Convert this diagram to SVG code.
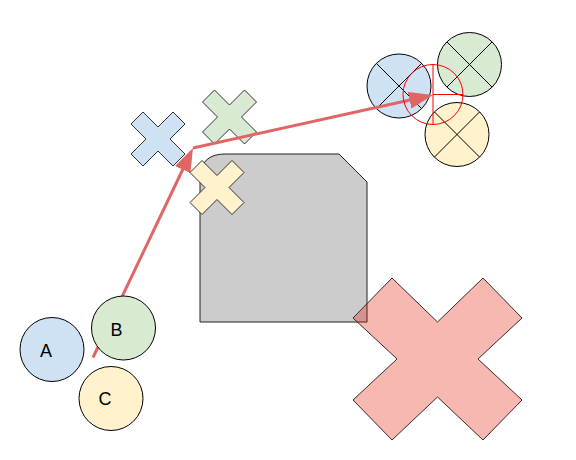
<svg xmlns="http://www.w3.org/2000/svg" width="576" height="460" viewBox="0 0 576 460">
<defs>
<style>
.lbl{font-family:"Liberation Sans",Arial,sans-serif;font-size:18px;fill:#000;text-anchor:middle}
.blue{fill:#cfe2f3;stroke:#000;stroke-width:1}
.green{fill:#d9ead3;stroke:#000;stroke-width:1}
.yellow{fill:#fff2cc;stroke:#000;stroke-width:1}
.xl{stroke:#000;stroke-width:1;fill:none}
.xs{stroke:#333;stroke-width:1}
.edge{fill:none;stroke:#e06666;stroke-width:3}
</style>
<polygon id="smallX" points="0,-12 15,-27 27,-15 12,0 27,15 15,27 0,12 -15,27 -27,15 -12,0 -27,-15 -15,-27"/>
<g id="xlines"><line x1="-22.6" y1="-22.6" x2="22.6" y2="22.6"/><line x1="22.6" y1="-22.6" x2="-22.6" y2="22.6"/></g>
<marker id="arr" markerUnits="userSpaceOnUse" markerWidth="26" markerHeight="18" refX="4" refY="8.5" orient="auto" viewBox="0 0 26 18">
<path d="M0,0 L24,8.5 L0,17 Z" fill="#e06666"/>
</marker>
</defs>
<g id="grayBox"><path d="M200,322 V179 Q200,154 225,154 H339 L367,182 V322 Z" fill="#cccccc" stroke="#222" stroke-width="1"/></g>
<g id="circleBlueX"><circle cx="399" cy="86" r="32" class="blue"/><use href="#xlines" transform="translate(399,86)" class="xl"/></g>
<g id="circleGreenX"><circle cx="469.5" cy="64.5" r="32" class="green"/><use href="#xlines" transform="translate(469.5,64.5)" class="xl"/></g>
<g id="circleYellowX"><circle cx="457" cy="134.5" r="32" class="yellow"/><use href="#xlines" transform="translate(457,134.5)" class="xl"/></g>
<g id="crossBlue"><use href="#smallX" transform="translate(158,139)" fill="#cfe2f3" class="xs"/></g>
<g id="crossGreen"><use href="#smallX" transform="translate(229.5,117)" fill="#d9ead3" class="xs"/></g>
<g id="connectors">
<path class="edge" d="M93,357.5 L184.4,166" marker-end="url(#arr)"/>
<path class="edge" d="M193,148 L413.5,99.3" marker-end="url(#arr)"/>
</g>
<g id="crossYellow"><use href="#smallX" transform="translate(217,187.5)" fill="#fff2cc" class="xs"/></g>
<g id="nodeA"><circle cx="52" cy="349.5" r="32" class="blue"/><text x="46" y="356.5" class="lbl">A</text></g>
<g id="nodeB"><circle cx="123.5" cy="328" r="32" class="green"/><text x="116.5" y="335.5" class="lbl">B</text></g>
<g id="nodeC"><circle cx="111" cy="398.5" r="32" class="yellow"/><text x="105" y="405" class="lbl">C</text></g>
<g id="redCircle" fill="none" stroke="#ff0000" stroke-width="1">
<circle cx="433" cy="94.5" r="30"/>
<line x1="433" y1="64.5" x2="433" y2="124.5"/>
<line x1="433" y1="94.5" x2="463" y2="94.5"/>
</g>
<g id="bigCross"><polygon points="437.5,322 483,278 522,318 478,359 522,400 483,440 437.5,397 392,440 353,400 397,359 353,318 392,278" fill="#e51400" fill-opacity="0.3" stroke="#3a2a2a" stroke-width="1"/></g>
</svg>
